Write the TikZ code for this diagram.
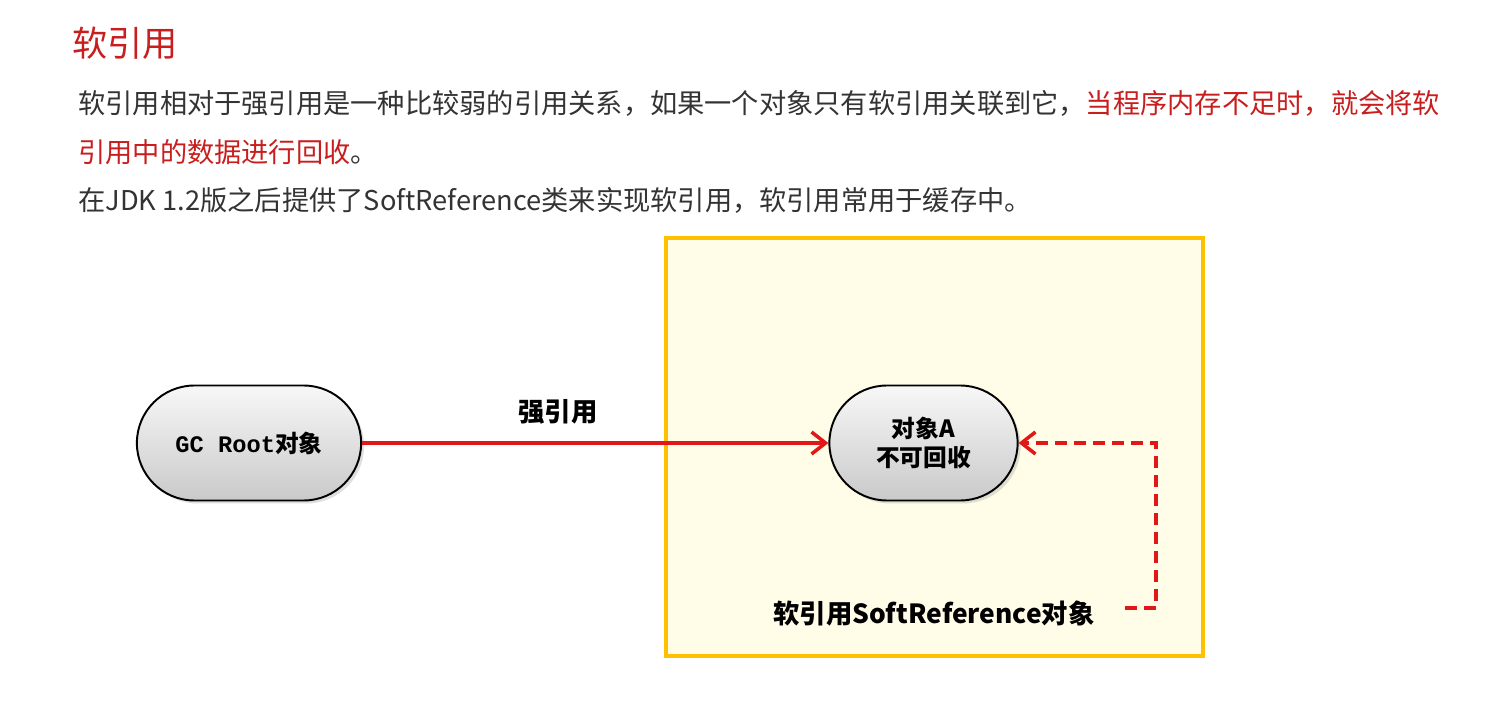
\documentclass[tikz,border=0pt]{standalone}
\usepackage{fontspec}
\setmainfont{Noto Sans CJK SC}
\newfontfamily\codefont{Liberation Mono}
\usepackage{xcolor}
\usetikzlibrary{shapes.misc, arrows.meta, positioning, shadows}
\definecolor{txtgray}{HTML}{333333}
\definecolor{titlered}{HTML}{C81E1E}
\definecolor{linered}{HTML}{E01818}
\definecolor{boxyellow}{HTML}{FFC000}
\definecolor{boxfill}{HTML}{FFFDE8}

\begin{document}
\begin{tikzpicture}[
    x=0.02cm, y=-0.02cm,
    textline/.style={anchor=west, inner sep=0pt, text=txtgray, font=\fontsize{15.5}{18}\selectfont},
    pill/.style={rounded rectangle, minimum height=2.3cm, draw=black, line width=1.1pt,
        top color=white!94!gray, bottom color=gray!42, drop shadow={opacity=0.25, shadow xshift=0.06cm, shadow yshift=-0.06cm},
        align=center, font=\fontsize{13.5}{17}\selectfont\bfseries},
    reflabel/.style={inner sep=0pt, font=\fontsize{15}{18}\selectfont\bfseries},
    strong/.style={line width=2pt, draw=linered, -{Straight Barb[length=0.28cm, width=0.44cm, line width=2pt]}},
    soft/.style={line width=2pt, draw=linered, dash pattern=on 0.24cm off 0.14cm, -{Straight Barb[length=0.28cm, width=0.44cm, line width=2pt]}}
]
    \useasboundingbox[fill=white] (0,0) rectangle (1486,705);

    \node (title) [anchor=west, inner sep=0pt, text=titlered, font=\fontsize{20}{23}\selectfont] at (72,43) {软引用};
    \node (line1) [textline] at (78,103) {软引用相对于强引用是一种比较弱的引用关系，如果一个对象只有软引用关联到它，\textcolor{titlered}{当程序内存不足时，就会将软}};
    \node (line2) [textline] at (78,152) {\textcolor{titlered}{引用中的数据进行回收}。};
    \node (line3) [textline] at (78,200) {在JDK 1.2版之后提供了SoftReference类来实现软引用，软引用常用于缓存中。};

    \node (heap) [draw=boxyellow, fill=boxfill, line width=2.4pt, minimum width=10.74cm, minimum height=8.36cm, inner sep=0pt] at (934.5,447) {};

    \node (root) [pill, minimum width=4.72cm] at (249,443) {{\codefont GC Root}对象};
    \node (objA) [pill, minimum width=4.0cm] at (923.5,443) {对象A\\不可回收};
    \node (strongref) [reflabel] at (558,412) {强引用};
    \node (softref) [reflabel] at (934,613) {软引用SoftReference对象};
    \coordinate (softstart) at (1125,608);
    \coordinate (bend) at (1156,608);

    \draw [strong] (root.east) -- (objA.west);
    \draw [soft] (softstart) -- (bend) |- (objA.east);
\end{tikzpicture}
\end{document}
